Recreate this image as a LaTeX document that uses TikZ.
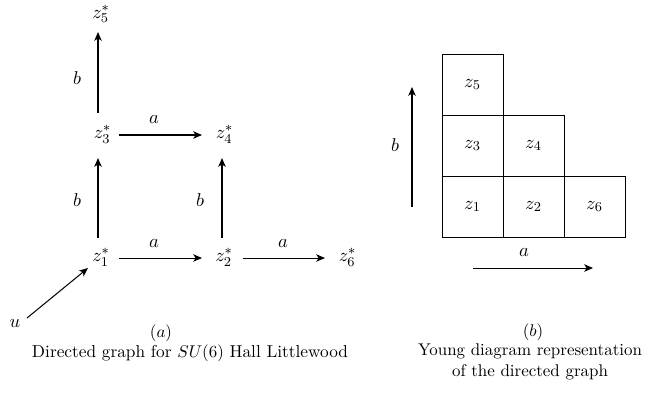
\documentclass[tikz,border=0pt]{standalone}
\usetikzlibrary{arrows.meta,calc}
\begin{document}
\begin{tikzpicture}[x=0.59pt,y=-0.59pt,
  lbl/.style={font=\fontsize{11}{13}\selectfont, inner sep=0pt},
  arr/.style={line width=0.6pt,-{Stealth[length=5.2pt,width=4.4pt,inset=1.4pt]}},
  cell/.style={draw,line width=0.45pt,minimum size=36pt,inner sep=0pt,font=\fontsize{11}{13}\selectfont},
  captext/.style={font=\fontsize{10}{12}\selectfont, inner sep=0pt, align=center}]
\useasboundingbox (0,0) rectangle (657,396);

% ---- (a) directed graph ----
\node[lbl] (z5) at (101,14) {$z_5^*$};
\node[lbl] (z3) at (102.5,134.5) {$z_3^*$};
\node[lbl] (z4) at (224.5,134.5) {$z_4^*$};
\node[lbl] (z1) at (101,257.5) {$z_1^*$};
\node[lbl] (z2) at (224,257.5) {$z_2^*$};
\node[lbl] (z6) at (347.5,257.5) {$z_6^*$};
\node[lbl] (u) at (15,323) {$u$};

\draw[arr] ($(z1)+(18,0.5)$) -- ($(z2)+(-22,0.5)$);
\draw[arr] ($(z2)+(19,0.5)$) -- ($(z6)+(-22.5,0.5)$);
\draw[arr] ($(z3)+(16.5,0.5)$) -- ($(z4)+(-22.5,0.5)$);
\draw[arr] ($(z1)+(-3,-19.5)$) -- ($(z3)+(-4.5,23.5)$);
\draw[arr] ($(z3)+(-4.5,-21.5)$) -- ($(z5)+(-3,18)$);
\draw[arr] ($(z2)+(-2,-19.5)$) -- ($(z4)+(-2.5,23.5)$);
\draw[arr] ($(u)+(12,-5)$) -- ($(z1)+(-13,10.5)$);

\node[lbl] (la1) at (154,243) {$a$};
\node[lbl] (la2) at (283,243) {$a$};
\node[lbl] (la3) at (154,119) {$a$};
\node[lbl] (lb1) at (77,200) {$b$};
\node[lbl] (lb2) at (200,200) {$b$};
\node[lbl] (lb3) at (77,78) {$b$};

\node[captext] (capa) at (161,333) {$(a)$};
\node[captext, font=\fontsize{10.2}{12}\selectfont] (capat) at (190,353) {Directed graph for $SU(6)$ Hall Littlewood};

% ---- (b) Young diagram ----
\node[cell] (y5) at (472.5,84.5) {$z_5$};
\node[cell] (y3) at (472.5,145.5) {$z_3$};
\node[cell] (y4) at (533.5,145.5) {$z_4$};
\node[cell] (y1) at (472.5,206.5) {$z_1$};
\node[cell] (y2) at (533.5,206.5) {$z_2$};
\node[cell] (y6) at (594.5,206.5) {$z_6$};

\coordinate (bs) at (412,207);
\coordinate (be) at (412,87);
\coordinate (as) at (473,268);
\coordinate (ae) at (593,268);
\draw[arr] (bs) -- (be);
\draw[arr] (as) -- (ae);
\node[lbl] (lbb) at (395,145) {$b$};
\node[lbl] (lba) at (524,252) {$a$};

\node[captext] (capb) at (533,332) {$(b)$};
\node[captext] (capbt) at (530,362) {Young diagram representation\\of the directed graph};
\end{tikzpicture}
\end{document}
